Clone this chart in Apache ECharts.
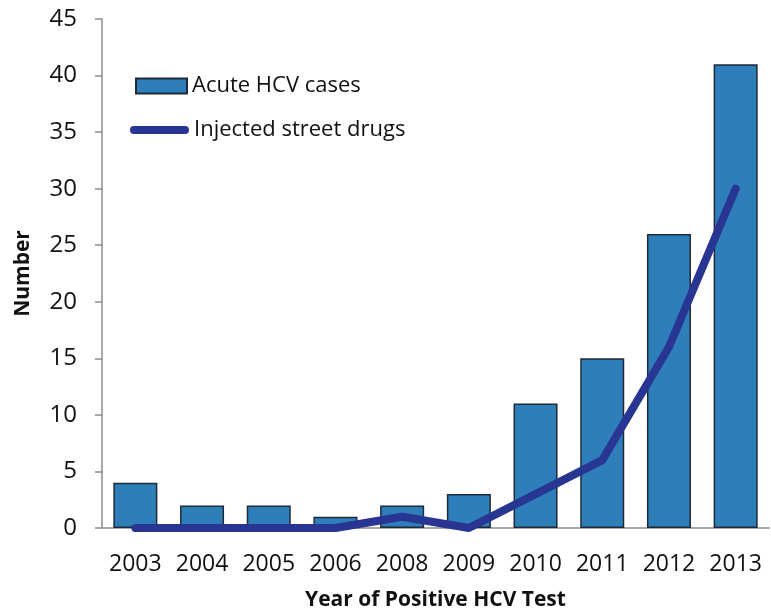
<!DOCTYPE html>
<html>
<head>
<meta charset="utf-8">
<script src="https://cdn.jsdelivr.net/npm/echarts@6/dist/echarts.min.js"></script>
<style>
  html, body { margin: 0; padding: 0; background: #fff; }
  #chart { width: 771px; height: 610px; }
</style>
</head>
<body>
<div id="chart"></div>
<script>
// Reported acute HCV cases by year of positive test
const years = ['2003', '2004', '2005', '2006', '2008', '2009', '2010', '2011', '2012', '2013'];
const acuteCases = [4, 2, 2, 1, 2, 3, 11, 15, 26, 41];
const injectedDrugs = [0, 0, 0, 0, 1, 0, 3, 6, 16, 30];
const yTicks = [0, 5, 10, 15, 20, 25, 30, 35, 40, 45];

const FONT = '"Open Sans", "Liberation Sans", sans-serif';
const BAR_COLOR = '#2E7EBA';
const LINE_COLOR = '#283593';
const chart = echarts.init(document.getElementById('chart'), null, { renderer: 'canvas' });

const legendText = { fontFamily: FONT, fontSize: 22, color: '#111', lineHeight: 24 };

chart.setOption({
  animation: false,
  textStyle: { fontFamily: FONT, color: '#111' },
  grid: { left: 102, right: 2, top: 19, bottom: 82, containLabel: false, outerBoundsMode: 'none' },
  legend: [
    {
      left: 135,
      top: 74,
      padding: 0,
      itemGap: 0,
      itemWidth: 51,
      itemHeight: 15,
      textStyle: legendText,
      data: [{ name: 'Acute HCV cases', icon: 'rect' }]
    },
    {
      left: 130,
      top: 118,
      padding: 0,
      itemGap: 0,
      itemWidth: 59,
      itemHeight: 8,
      textStyle: legendText,
      data: [{
        name: 'Injected street drugs',
        icon: 'path://M4,0 H55 A4,4 0 0 1 55,8 H4 A4,4 0 0 1 4,0 Z',
        itemStyle: { color: LINE_COLOR, borderWidth: 0 }
      }]
    }
  ],
  xAxis: {
    type: 'category',
    data: years,
    name: 'Year of Positive HCV Test',
    nameLocation: 'middle',
    nameGap: 62,
    nameTextStyle: { fontFamily: FONT, fontSize: 21, fontWeight: 'bold', color: '#111' },
    axisLine: { lineStyle: { color: '#8c8c8c', width: 1.5 } },
    axisTick: { length: 7, lineStyle: { color: '#8c8c8c', width: 1.5 } },
    axisLabel: { interval: 0, fontFamily: FONT, fontSize: 23, color: '#111', margin: 25 }
  },
  yAxis: {
    type: 'value',
    min: yTicks[0],
    max: yTicks[yTicks.length - 1],
    interval: 5,
    name: 'Number',
    nameLocation: 'middle',
    nameGap: 68,
    nameRotate: 90,
    nameTextStyle: { fontFamily: FONT, fontSize: 21, fontWeight: 'bold', color: '#111' },
    axisLine: { show: true, lineStyle: { color: '#8c8c8c', width: 1.5 } },
    axisTick: { show: true, length: 7, lineStyle: { color: '#8c8c8c', width: 1.5 } },
    axisLabel: { fontFamily: FONT, fontSize: 24, color: '#111', margin: 25 },
    splitLine: { show: false }
  },
  series: [
    {
      name: 'Acute HCV cases',
      type: 'bar',
      data: acuteCases,
      barWidth: '66%',
      itemStyle: { color: BAR_COLOR, borderColor: '#1e2a36', borderWidth: 1.5 }
    },
    {
      name: 'Injected street drugs',
      type: 'line',
      data: injectedDrugs,
      symbol: 'none',
      lineStyle: { color: LINE_COLOR, width: 8, cap: 'round', join: 'round' },
      itemStyle: { color: LINE_COLOR }
    }
  ]
});
</script>
</body>
</html>
